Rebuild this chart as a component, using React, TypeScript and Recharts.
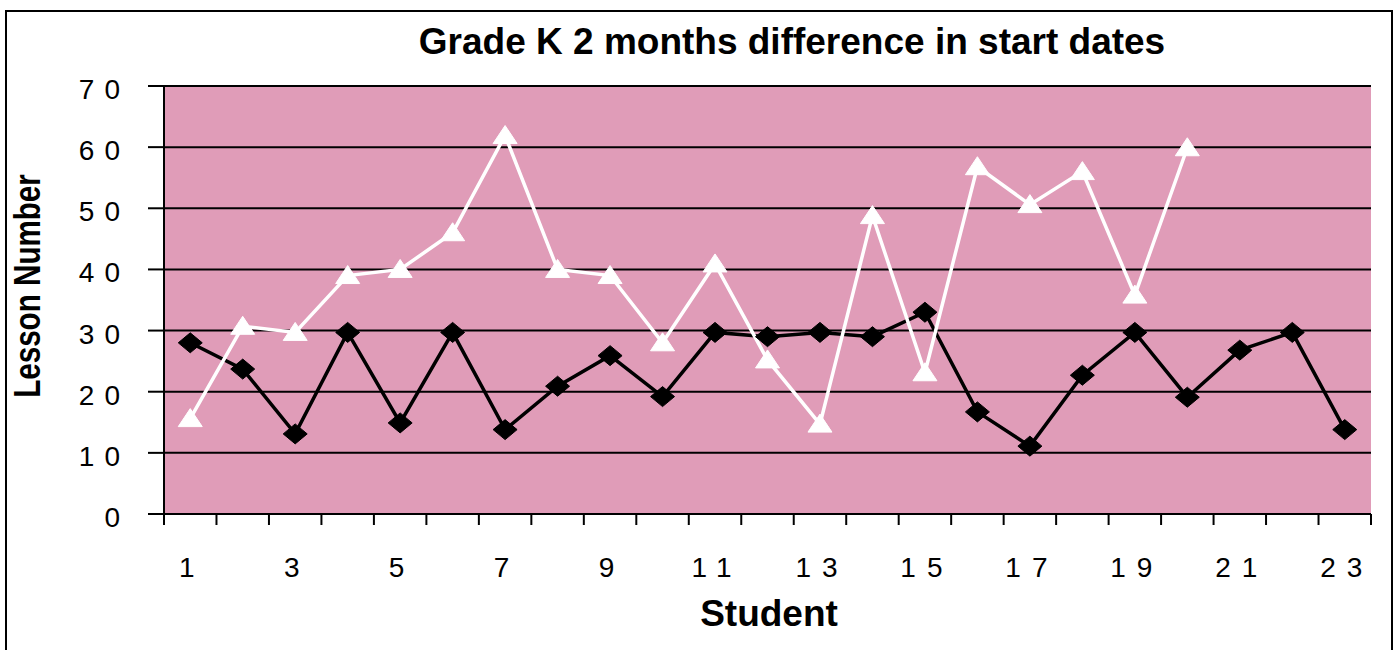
import React from 'react';
import { LineChart, Line, XAxis, YAxis, CartesianGrid } from 'recharts';

const students = [1,2,3,4,5,6,7,8,9,10,11,12,13,14,15,16,17,18,19,20,21,22,23];
const seriesA = [28, 23.7, 13.1, 29.7, 14.9, 29.7, 13.8, 20.9, 25.9, 19.2, 29.7, 29, 29.7, 29, 33, 16.7, 11.1, 22.7, 29.7, 19.1, 26.8, 29.7, 13.8];
const seriesB: (number | null)[] = [15.6, 30.7, 29.7, 39, 40, 46, 61.9, 40, 39, 28, 40.9, 25.2, 14.7, 48.8, 23.1, 56.8, 50.6, 56, 35.8, 59.9, null, null, null];
const yTicks = [0, 10, 20, 30, 40, 50, 60, 70];
const xLabelTicks = [1, 3, 5, 7, 9, 11, 13, 15, 17, 19, 21, 23];
const xBoundaryTicks = [0.5,1.5,2.5,3.5,4.5,5.5,6.5,7.5,8.5,9.5,10.5,11.5,12.5,13.5,14.5,15.5,16.5,17.5,18.5,19.5,20.5,21.5,22.5,23.5];
const xAllTicks = [...xBoundaryTicks, ...xLabelTicks].sort((p, q) => p - q);

const titleText = 'Grade K 2 months difference in start dates';
const xTitle = 'Student';
const yTitle = 'Lesson Number';

const data = students.map((s, i) => ({ student: s, a: seriesA[i], b: seriesB[i] }));

const FONT = '"Liberation Sans", Arial, Helvetica, sans-serif';

const Diamond = (props: any) => {
  const { cx, cy, index } = props;
  if (cx == null || cy == null) return <g key={`d${index}`} />;
  return (
    <polygon key={`d${index}`} points={`${cx - 12},${cy} ${cx},${cy - 10} ${cx + 12},${cy} ${cx},${cy + 10}`} fill="#000" stroke="#000" strokeWidth={1} />
  );
};

const Triangle = (props: any) => {
  const { cx, cy, index } = props;
  if (cx == null || cy == null) return <g key={`t${index}`} />;
  return (
    <polygon key={`t${index}`} points={`${cx - 12},${cy + 8} ${cx},${cy - 10} ${cx + 12},${cy + 8}`} fill="#fff" stroke="#fff" strokeWidth={1} />
  );
};

const YTick = (props: any) => {
  const { x, y, payload } = props;
  return (
    <text x={x - 18} y={y + 13} textAnchor="end" fontFamily={FONT} fontSize={28} letterSpacing={10} fill="#000">
      {payload.value}
    </text>
  );
};

const XTick = (props: any) => {
  const { x, y, payload } = props;
  const v = payload.value;
  if (!Number.isInteger(v)) {
    return <line x1={x} x2={x} y1={y} y2={y + 11} stroke="#000" strokeWidth={2} />;
  }
  return (
    <text x={x + 2} y={y + 63} textAnchor="middle" fontFamily={FONT} fontSize={28} letterSpacing={11} fill="#000">
      {v}
    </text>
  );
};

export default function App() {
  return (
    <div style={{ position: 'absolute', left: 0, top: 0, width: 1398, height: 650, overflow: 'hidden', background: '#fff' }}>
      <div style={{ position: 'absolute', left: 5, top: 10, width: 1384, height: 660, border: '2px solid #000' }} />
      <div style={{ position: 'absolute', left: 0, top: 0 }}>
        <LineChart width={1398} height={650} data={data} margin={{ top: 86, right: 27, bottom: 0, left: 0 }}>
          <CartesianGrid vertical={false} horizontal={true} stroke="#000" strokeWidth={2} fill="#E09CB8" fillOpacity={1} strokeOpacity={1} />
          <XAxis
            dataKey="student"
            type="number"
            domain={[0.5, 23.5]}
            ticks={xAllTicks}
            interval={0}
            height={136}
            axisLine={{ stroke: '#000', strokeWidth: 2 }}
            tickLine={false}
            tickSize={0}
            tickMargin={0}
            tick={XTick}
          />
          <YAxis
            type="number"
            domain={[0, 70]}
            ticks={yTicks}
            interval={0}
            width={164}
            axisLine={{ stroke: '#000', strokeWidth: 2 }}
            tickLine={{ stroke: '#000', strokeWidth: 2 }}
            tickSize={16}
            tickMargin={0}
            tick={YTick}
          />
          <Line dataKey="a" stroke="#000" strokeWidth={3.5} dot={Diamond} isAnimationActive={false} connectNulls={false} />
          <Line dataKey="b" stroke="#fff" strokeWidth={3.5} dot={Triangle} isAnimationActive={false} connectNulls={false} />
        </LineChart>
      </div>
      <div style={{ position: 'absolute', left: 792, top: 60, transform: 'translate(-50%, -100%)', whiteSpace: 'nowrap', fontFamily: FONT, fontWeight: 'bold', fontSize: 37, lineHeight: '37px', color: '#000' }}>
        <span style={{ display: 'inline-block', lineHeight: 1 }}>{titleText}</span>
      </div>
      <div style={{ position: 'absolute', left: 769, top: 613, transform: 'translate(-50%, -50%)', whiteSpace: 'nowrap', fontFamily: FONT, fontWeight: 'bold', fontSize: 37, lineHeight: 1, color: '#000' }}>
        {xTitle}
      </div>
      <div style={{ position: 'absolute', left: 27, top: 286, transform: 'translate(-50%, -50%) rotate(-90deg) scaleX(0.8)', whiteSpace: 'nowrap', fontFamily: FONT, fontWeight: 'bold', fontSize: 37, lineHeight: 1, color: '#000' }}>
        {yTitle}
      </div>
    </div>
  );
}
